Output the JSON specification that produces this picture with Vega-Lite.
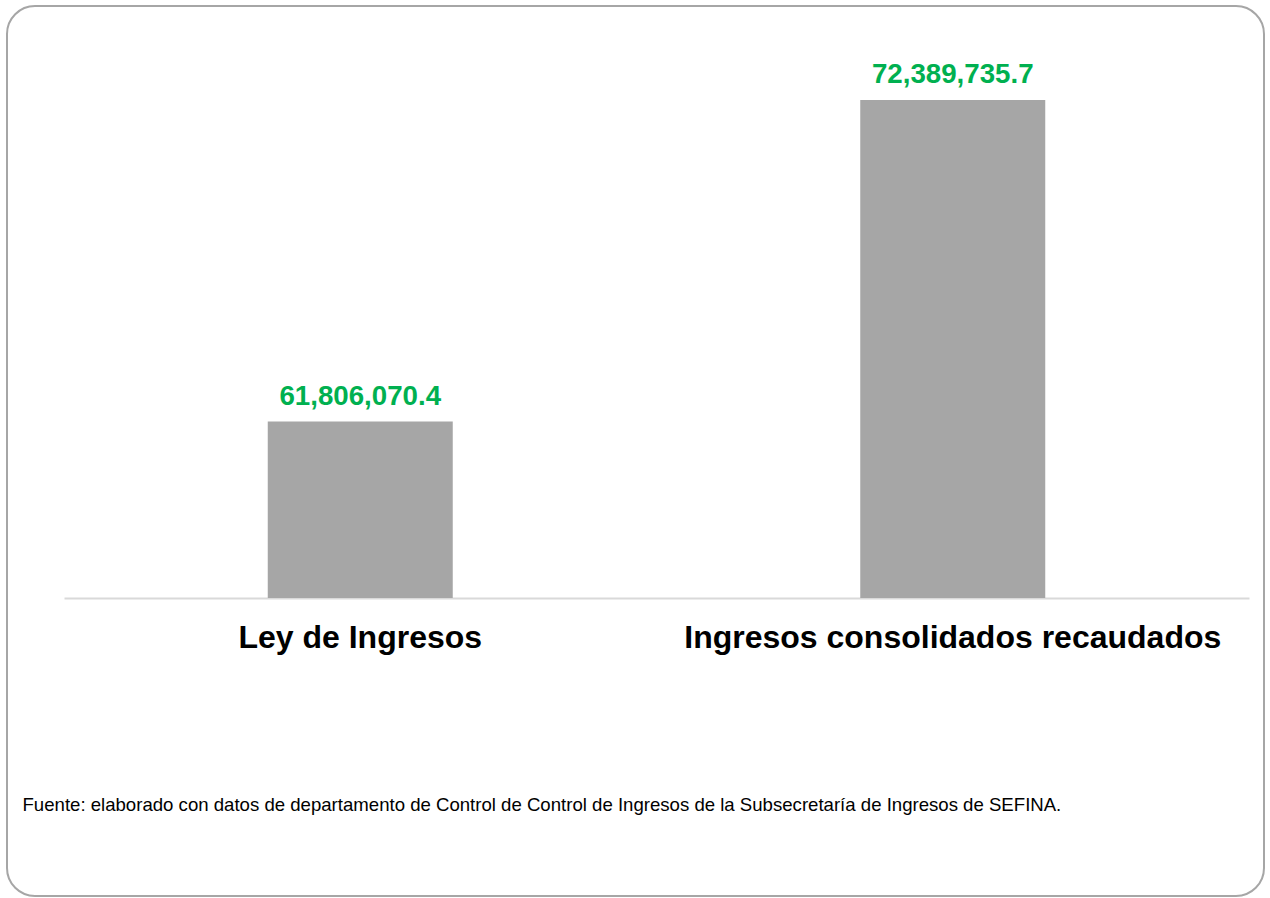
{
  "$schema": "https://vega.github.io/schema/vega-lite/v6.json",
  "width": 1257,
  "height": 890,
  "autosize": {"type": "none"},
  "padding": {"left": 7, "top": 6, "right": 6, "bottom": 2},
  "background": "white",
  "config": {
    "view": {"stroke": "#A6A6A6", "strokeWidth": 2, "cornerRadius": 28, "fill": "white"},
    "font": "Liberation Sans"
  },
  "data": {
    "values": [
      {"categoria": "Ley de Ingresos", "monto": 61806070.4},
      {"categoria": "Ingresos consolidados recaudados", "monto": 72389735.7}
    ]
  },
  "encoding": {
    "x": {
      "field": "categoria",
      "type": "nominal",
      "sort": null,
      "scale": {"range": [57, 1242], "paddingInner": 0, "paddingOuter": 0},
      "axis": {
        "orient": "bottom",
        "offset": -298,
        "labelAngle": 0,
        "labelFontSize": 32,
        "labelFontWeight": "bold",
        "labelColor": "#000000",
        "labelPadding": 24,
        "labelLimit": 650,
        "ticks": false,
        "tickSize": 0,
        "grid": false,
        "domainColor": "#D9D9D9",
        "domainWidth": 2,
        "title": "Fuente: elaborado con datos de departamento de Control de Control de Ingresos de la Subsecretaría de Ingresos de SEFINA.",
        "titleFontSize": 18.6,
        "titleFontWeight": "normal",
        "titleColor": "#000000",
        "titleX": 15,
        "titleY": 212,
        "titleAlign": "left",
        "titleAnchor": "start",
        "titleBaseline": "alphabetic",
        "titleLimit": 1250
      }
    },
    "y": {
      "field": "monto",
      "type": "quantitative",
      "scale": {"domain": [46192522, 75483312], "zero": false, "nice": false},
      "axis": null
    }
  },
  "layer": [
    {
      "mark": {"type": "bar", "width": 185, "color": "#A6A6A6"},
      "encoding": {"y2": {"datum": 56000000}}
    },
    {
      "mark": {
        "type": "text",
        "baseline": "alphabetic",
        "align": "center",
        "dy": -17,
        "fontSize": 27.7,
        "fontWeight": "bold",
        "color": "#00B050"
      },
      "encoding": {"text": {"field": "monto", "type": "quantitative", "format": ",.1f"}}
    }
  ]
}
